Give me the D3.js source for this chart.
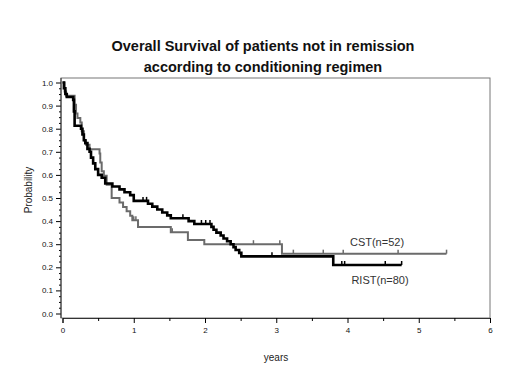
<!DOCTYPE html>
<html>
  <head>
    <script src="https://cdn.jsdelivr.net/npm/d3@7"></script>
    <style>
      body { margin: 0; background: #fff; }
      text { font-family: "Liberation Sans", Arial, sans-serif; }
    </style>
  </head>
  <body>
    <svg id="chart"></svg>
    <script>
      // Kaplan-Meier steps (time in years, survival after the step)
      const ristTimes = [0, 0.02, 0.04, 0.06, 0.15, 0.16, 0.17, 0.26, 0.28, 0.30, 0.32, 0.35, 0.38, 0.40, 0.43, 0.46, 0.50, 0.55, 0.60, 0.70, 0.80, 0.87, 0.95, 1.00, 1.20, 1.26, 1.33, 1.40, 1.47, 1.52, 1.77, 1.85, 2.09, 2.12, 2.16, 2.22, 2.26, 2.31, 2.36, 2.40, 2.43, 2.48, 2.51, 3.80, 4.76]
      const ristSurv  = [1.0, 0.975, 0.95, 0.9375, 0.925, 0.875, 0.8125, 0.80, 0.775, 0.75, 0.7375, 0.7125, 0.70, 0.675, 0.65, 0.625, 0.60, 0.5875, 0.5625, 0.55, 0.5375, 0.525, 0.5125, 0.4875, 0.475, 0.4625, 0.45, 0.4375, 0.425, 0.4125, 0.40, 0.3875, 0.375, 0.3625, 0.35, 0.3375, 0.325, 0.3125, 0.30, 0.2875, 0.275, 0.2625, 0.2475, 0.21, 0.21]
      const ristCensor = [1.13, 1.18, 1.69, 1.95, 2.01, 2.07, 2.94, 3.92, 3.96, 4.53, 4.76]

      const cstTimes = [0, 0.03, 0.05, 0.17, 0.19, 0.21, 0.25, 0.27, 0.30, 0.33, 0.38, 0.52, 0.53, 0.55, 0.58, 0.62, 0.69, 0.80, 0.85, 0.90, 0.95, 0.98, 1.06, 1.52, 1.76, 1.99, 3.08, 5.39]
      const cstSurv  = [1.0, 0.9615, 0.9423, 0.9038, 0.8654, 0.8462, 0.827, 0.7885, 0.75, 0.7308, 0.7115, 0.6923, 0.6538, 0.6154, 0.5962, 0.5577, 0.50, 0.4808, 0.4615, 0.4423, 0.4231, 0.4038, 0.375, 0.352, 0.318, 0.30, 0.259, 0.259]
      const cstCensor = [1.0, 1.03, 1.54, 2.68, 3.05, 3.24, 3.66, 3.94, 4.71, 5.39]

      const xTicks = [0, 1, 2, 3, 4, 5, 6]
      const yTicks = [0, 0.1, 0.2, 0.3, 0.4, 0.5, 0.6, 0.7, 0.8, 0.9, 1.0]
      const titleLines = ["Overall Survival of patients not in remission", "according to conditioning regimen"]

      const W = 520, H = 389
      const svg = d3.select("#chart").attr("width", W).attr("height", H)

      var x = d3.scaleLinear().domain([0, 6]).range([62.5, 490])
      var y = d3.scaleLinear().domain([0, 1]).range([313.5, 82.5])

      // title
      svg.append("g").selectAll("text").data(titleLines).enter().append("text")
        .attr("x", 263).attr("y", (d, i) => 51 + i * 21)
        .attr("text-anchor", "middle").attr("font-size", 14.5).attr("font-weight", "bold")
        .attr("fill", "#111").text(d => d)

      // frame
      svg.append("rect").attr("x", 61).attr("y", 78).attr("width", 429).attr("height", 240)
        .attr("fill", "none").attr("stroke", "#777").attr("stroke-width", 1)

      // x axis
      var xAxis = d3.axisBottom(x).tickValues(xTicks).tickSize(5).tickFormat(d3.format("d"))
      var xg = svg.append("g").attr("transform", "translate(0,318)").call(xAxis)
      xg.select(".domain").attr("stroke", "#333")
      xg.selectAll("text").attr("font-size", 8).attr("fill", "#111").attr("dy", "0.9em")
      svg.append("g").attr("transform", "translate(0,318)")
        .call(d3.axisBottom(x).tickValues([0.5, 1.5, 2.5, 3.5, 4.5, 5.5]).tickSize(3).tickFormat(""))
        .select(".domain").remove()

      // y axis
      var yAxis = d3.axisLeft(y).tickValues(yTicks).tickSize(5).tickFormat(d3.format(".1f"))
      var yg = svg.append("g").attr("transform", "translate(61,0)").call(yAxis)
      yg.select(".domain").remove()
      yg.selectAll("text").attr("font-size", 8).attr("fill", "#111")
      var minor = d3.range(0, 1.0001, 0.025).filter(v => Math.abs(v * 10 - Math.round(v * 10)) > 0.01)
      svg.append("g").attr("transform", "translate(61,0)")
        .call(d3.axisLeft(y).tickValues(minor).tickSize(2).tickFormat(""))
        .select(".domain").remove()
      svg.append("line").attr("x1", 61).attr("x2", 61).attr("y1", 78).attr("y2", 318).attr("stroke", "#333")

      // axis labels
      svg.append("text").attr("x", 276).attr("y", 361).attr("text-anchor", "middle")
        .attr("font-size", 10).attr("fill", "#222").text("years")
      svg.append("text").attr("transform", "translate(32,190) rotate(-90)").attr("text-anchor", "middle")
        .attr("font-size", 10).attr("fill", "#222").text("Probability")

      var step = d3.line().x(d => x(d[0])).y(d => y(d[1])).curve(d3.curveStepAfter)

      function survAt(times, surv, t) {
        var i = d3.bisectRight(times, t) - 1
        return surv[Math.max(0, i)]
      }

      function drawCurve(times, surv, censor, color, width) {
        var g = svg.append("g")
        g.append("path").attr("d", step(times.map((t, i) => [t, surv[i]])))
          .attr("fill", "none").attr("stroke", color).attr("stroke-width", width)
        g.selectAll("line").data(censor).enter().append("line")
          .attr("x1", d => x(d)).attr("x2", d => x(d))
          .attr("y1", d => y(survAt(times, surv, d)) - 4)
          .attr("y2", d => y(survAt(times, surv, d)))
          .attr("stroke", color).attr("stroke-width", 1.5)
      }

      drawCurve(cstTimes, cstSurv, cstCensor, "#6b6b6b", 2)
      drawCurve(ristTimes, ristSurv, ristCensor, "#000", 2.6)

      // curve labels
      svg.append("text").attr("x", 377).attr("y", 246).attr("text-anchor", "middle")
        .attr("font-size", 11).attr("fill", "#333").text("CST(n=52)")
      svg.append("text").attr("x", 380).attr("y", 284).attr("text-anchor", "middle")
        .attr("font-size", 11).attr("fill", "#333").text("RIST(n=80)")
    </script>
  </body>
</html>
